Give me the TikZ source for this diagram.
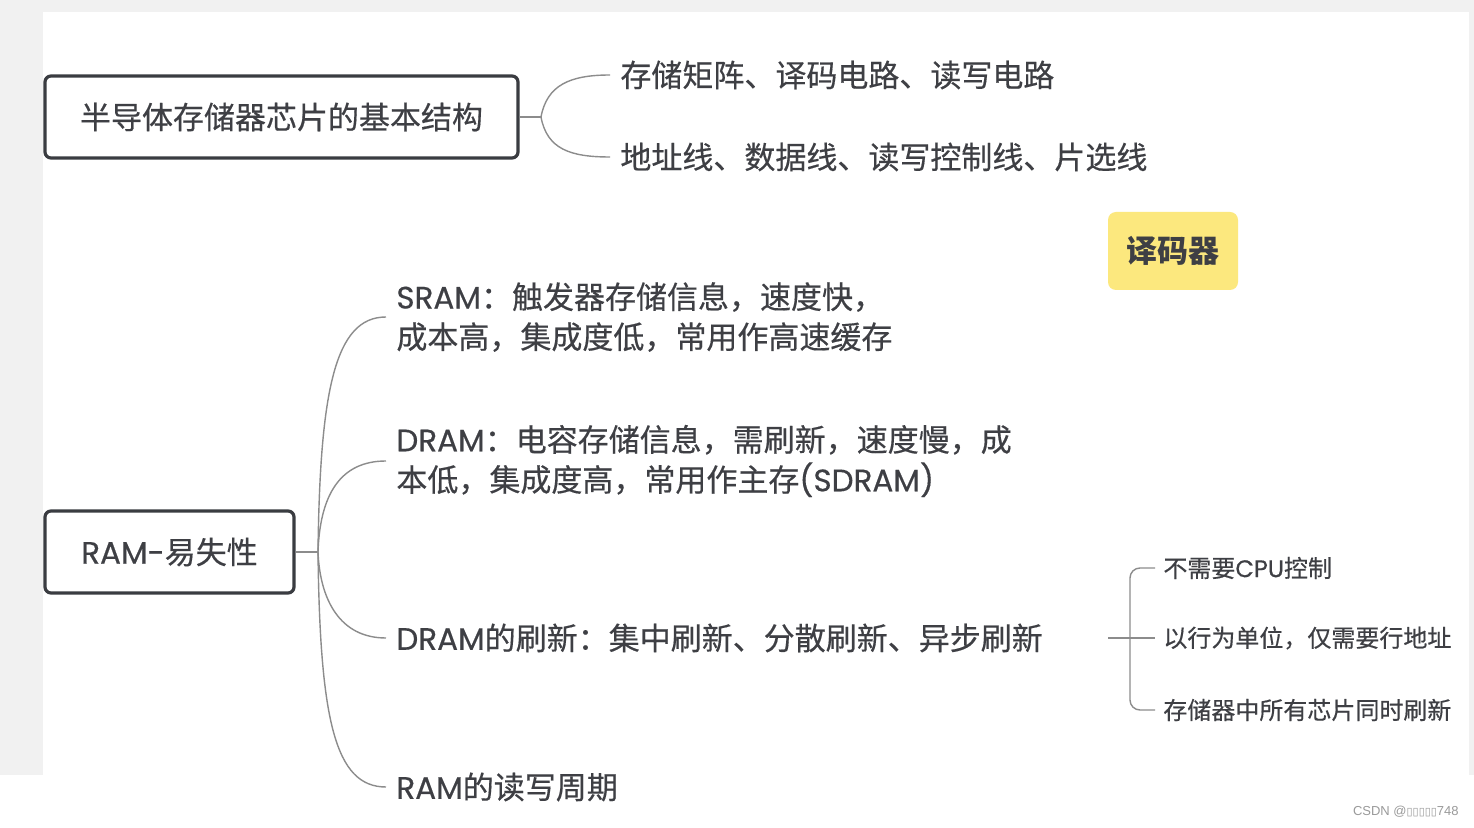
\documentclass[tikz,border=0pt]{standalone}
\usepackage{fontspec}
\setmainfont{Noto Sans CJK SC}[UprightFeatures={FakeBold=0.45}]
\newfontfamily\lat{Poppins}[UprightFeatures={FakeBold=0.45}]
\newfontfamily\wmfont{Liberation Sans}
\newfontfamily\boxfont{DejaVu Sans}
\definecolor{bggray}{HTML}{F1F1F1}
\definecolor{txt}{HTML}{3E3F44}
\definecolor{boxline}{HTML}{3A3C41}
\definecolor{linkgray}{HTML}{8C8C8C}
\definecolor{hl}{HTML}{FCE87E}
\definecolor{wm}{HTML}{9A9A9A}
\begin{document}
\begin{tikzpicture}[x=0.5pt,y=-0.5pt,
  topic/.style={draw=boxline,line width=1.6pt,rounded corners=3pt,fill=white,text=txt,
    font=\fontsize{15.5}{20}\selectfont,minimum height=41pt,inner sep=0pt},
  leaf/.style={anchor=west,inner xsep=5pt,inner ysep=0pt,text=txt,align=left,
    font=\fontsize{15.5}{20}\selectfont},
  small/.style={anchor=west,inner xsep=4pt,inner ysep=0pt,text=txt,
    font=\fontsize{12}{15}\selectfont},
  link/.style={draw=linkgray,line width=0.7pt}]
  \useasboundingbox (0,0) rectangle (1474,828);

  % 背景
  \fill[bggray] (0,0) rectangle (1474,828);
  \fill[white] (43,12) rectangle (1469,775);
  \fill[white] (0,775) rectangle (1474,828);

  % 基本结构
  \node[topic,minimum width=236.5pt] (base) at (281.5,117) {半导体存储器芯片的基本结构};
  \node[leaf] (parts) at (610,75) {存储矩阵、译码电路、读写电路};
  \node[leaf] (lines) at (610,157) {地址线、数据线、读写控制线、片选线};
  \coordinate (j1) at (541,117);
  \draw[link] (base.east) -- (j1);
  \draw[link] (j1) .. controls +(6,-32) and +(-40,0) .. (parts.west);
  \draw[link] (j1) .. controls +(6,32) and +(-40,0) .. (lines.west);

  % 译码器
  \node[fill=hl,rounded corners=4pt,minimum width=65pt,minimum height=39pt,text=txt,
    font=\fontsize{15.5}{20}\selectfont\bfseries] (dec) at (1173,251) {译码器};

  % RAM
  \node[topic,minimum width=124.5pt] (ram) at (169.5,552) {{\lat RAM-}易失性};
  \node[leaf] (sram) at (386,317) {{\lat SRAM}：触发器存储信息，速度快，\\成本高，集成度低，常用作高速缓存};
  \node[leaf] (dram) at (386,461) {{\lat DRAM}：电容存储信息，需刷新，速度慢，成\\本低，集成度高，常用作主存{\lat(SDRAM)}};
  \node[leaf] (fresh) at (386,638) {{\lat DRAM}的刷新：集中刷新、分散刷新、异步刷新};
  \node[leaf] (cycle) at (386,787) {{\lat RAM}的读写周期};
  \coordinate (j2) at (318,552);
  \draw[link] (ram.east) -- (j2);
  \draw[link] (j2) .. controls (320,390) and (335,317) .. (sram.west);
  \draw[link] (j2) .. controls (320,495) and (340,461) .. (dram.west);
  \draw[link] (j2) .. controls (320,600) and (340,638) .. (fresh.west);
  \draw[link] (j2) .. controls (320,720) and (335,787) .. (cycle.west);

  % 刷新的特点
  \node[small] (cpu) at (1155,568) {不需要{\lat CPU}控制};
  \node[small] (row) at (1155,638) {以行为单位，仅需要行地址};
  \node[small] (all) at (1155,710) {存储器中所有芯片同时刷新};
  \coordinate (j3) at (1108,638);
  \draw[link] (j3) -- (row.west);
  \draw[link,rounded corners=5pt] (cpu.west) -- ++(-25,0) |- (all.west);

  % 水印
  \node[anchor=east,inner sep=0pt,text=wm,font=\wmfont\fontsize{6.5}{8}\selectfont] (csdn)
    at (1459,812) {CSDN @{\boxfont\fontsize{5.5}{8}\selectfont ▯▯▯▯▯}748};
\end{tikzpicture}
\end{document}
